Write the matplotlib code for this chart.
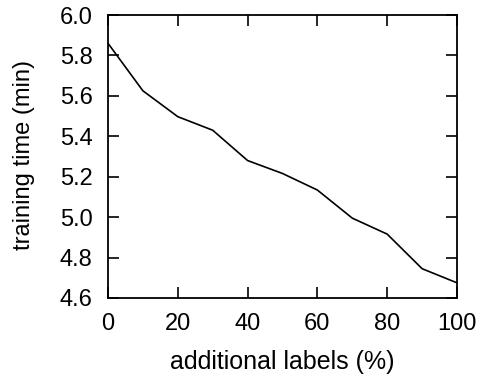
import matplotlib
matplotlib.use("Agg")
import matplotlib.pyplot as plt

plt.rcParams['font.family'] = ['Liberation Sans', 'DejaVu Sans']

labels_pct = [0, 10, 20, 30, 40, 50, 60, 70, 80, 90, 100]
train_min = [5.86, 5.625, 5.497, 5.43, 5.28, 5.216, 5.134, 4.995, 4.916, 4.745, 4.675]

fig = plt.figure(figsize=(4.83, 3.79), dpi=100)
ax = fig.add_axes([108 / 483, 1 - 298 / 379, (457 - 108) / 483, (298 - 15) / 379])

ax.plot(labels_pct, train_min, color='black', linewidth=1.2)

ax.set_xlim(0, 100)
ax.set_ylim(4.6, 6.0)
ax.set_xticks(range(0, 101, 20))
ax.set_yticks([4.6, 4.8, 5.0, 5.2, 5.4, 5.6, 5.8, 6.0])
ax.set_yticklabels(['4.6', '4.8', '5.0', '5.2', '5.4', '5.6', '5.8', '6.0'])
ax.tick_params(direction='in', length=8, width=1.2, top=True, right=True,
               labelsize=17)
ax.tick_params(axis='y', pad=11)
ax.tick_params(axis='x', pad=11)
for s in ax.spines.values():
    s.set_linewidth(1.3)

ax.set_xlabel('additional labels (%)', fontsize=18)
ax.set_ylabel('training time (min)', fontsize=17)
ax.xaxis.set_label_coords(0.5, -0.185)
ax.yaxis.set_label_coords(-0.21, 0.505)

fig.savefig('out.png', dpi=100)
